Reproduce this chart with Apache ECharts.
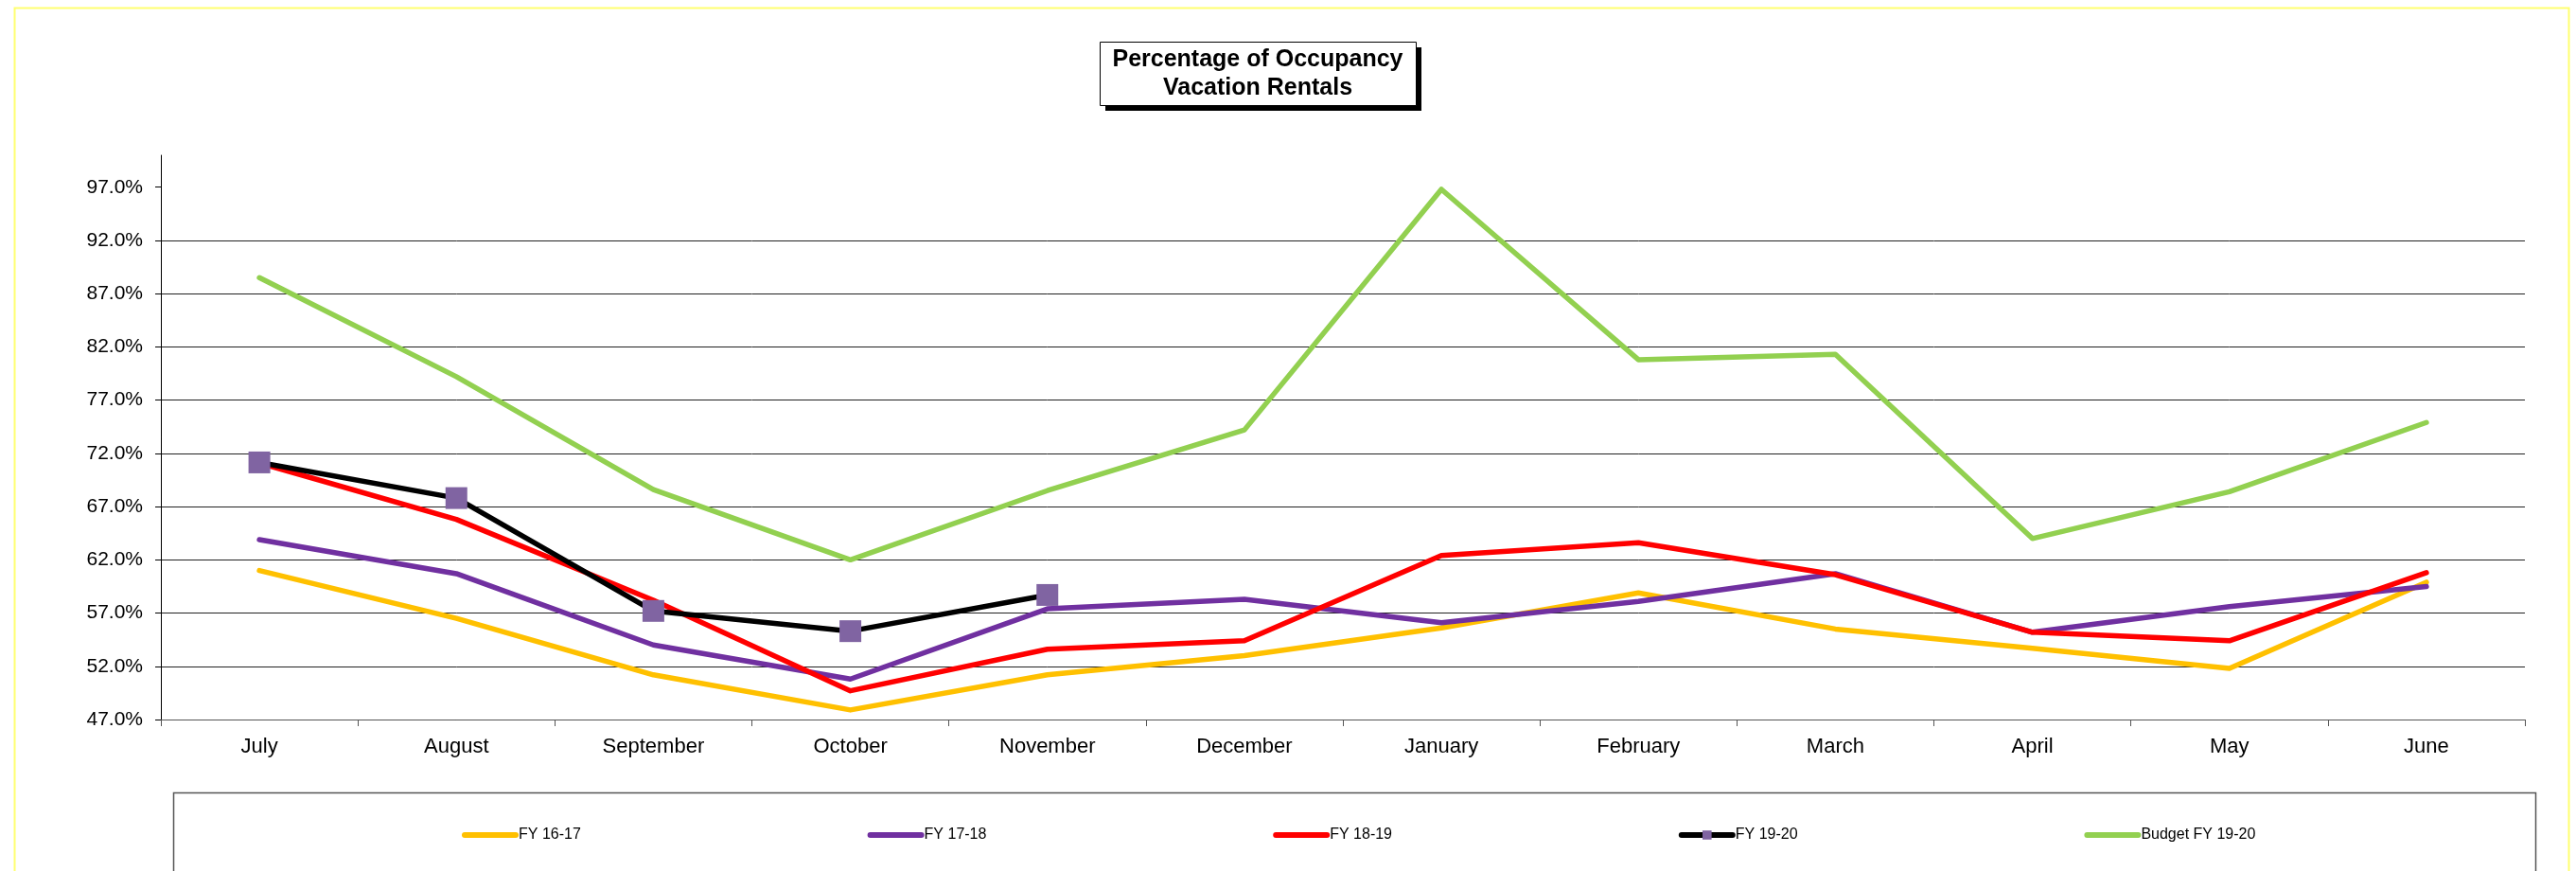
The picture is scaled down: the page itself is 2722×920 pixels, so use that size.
<!DOCTYPE html>
<html>
<head>
<meta charset="utf-8">
<script src="https://cdn.jsdelivr.net/npm/echarts@6/dist/echarts.min.js"></script>
<style>
html,body{margin:0;padding:0;background:#fff;}
#c{width:2722px;height:920px;}
</style>
</head>
<body>
<div id="c"></div>
<script>
const months = ['July','August','September','October','November','December','January','February','March','April','May','June'];
const yTicks = [47, 52, 57, 62, 67, 72, 77, 82, 87, 92, 97];
const seriesNames = ['FY 16-17', 'FY 17-18', 'FY 18-19', 'FY 19-20', 'Budget FY 19-20'];
const fy1617 = [61.0, 56.5, 51.2, 47.9, 51.2, 53.0, 55.6, 58.9, 55.5, 53.7, 51.8, 59.9];
const fy1718 = [63.9, 60.7, 54.0, 50.8, 57.4, 58.3, 56.1, 58.1, 60.7, 55.2, 57.6, 59.5];
const fy1819 = [71.1, 65.8, 58.2, 49.7, 53.6, 54.4, 62.4, 63.6, 60.6, 55.2, 54.4, 60.8];
const fy1920 = [71.15, 67.8, 57.2, 55.3, 58.7, null, null, null, null, null, null, null];
const budget = [88.5, 79.2, 68.6, 62.0, 68.5, 74.2, 96.8, 80.8, 81.3, 64.0, 68.4, 74.9];

const FONT = "'Liberation Sans', Arial, sans-serif";
const chart = echarts.init(document.getElementById('c'), null, {renderer: 'canvas'});

function lineSeries(name, data, color) {
  return {
    name: name, type: 'line', data: data, symbol: 'none', smooth: false,
    lineStyle: {color: color, width: 5.5, cap: 'round', join: 'round'},
    itemStyle: {color: color},
    emphasis: {disabled: true}, animation: false
  };
}

const legendStart = 483, legendSlot = 428.6;
const legends = seriesNames.map((name, i) => ({
  left: legendStart + i * legendSlot, top: 869,
  itemWidth: 54, itemHeight: 12,
  lineStyle: {cap: 'round', width: 6},
  textStyle: {fontFamily: FONT, fontSize: 16, color: '#000', padding: [0, 0, 0, -2]},
  data: [i === 3 ? {name: name} : {name: name, itemStyle: {opacity: 0}}],
  selectedMode: false
}));

const titleBox = {x: 1162, y: 44, w: 334, h: 67, shadow: 6};

const option = {
  animation: false,
  backgroundColor: '#fff',
  title: {
    text: 'Percentage of Occupancy\nVacation Rentals',
    left: titleBox.x + titleBox.w / 2, top: titleBox.y + 4,
    textAlign: 'center',
    padding: 0,
    z: 20,
    textStyle: {fontFamily: FONT, fontSize: 25, fontWeight: 'bold', color: '#000', lineHeight: 30}
  },
  graphic: [
    {type: 'rect', left: 13, top: 6, silent: true, z: -10,
     shape: {width: 2699, height: 1000}, style: {fill: 'none', stroke: '#ffff70', lineWidth: 2}},
    {type: 'rect', left: 181, top: 835, silent: true, z: -10,
     shape: {width: 2496, height: 200}, style: {fill: 'none', stroke: '#555', lineWidth: 1.5}},
    {type: 'rect', x: titleBox.x + titleBox.shadow, y: titleBox.y + titleBox.shadow, silent: true, z: 10,
     shape: {width: titleBox.w, height: titleBox.h}, style: {fill: '#000'}},
    {type: 'rect', x: titleBox.x + 0.5, y: titleBox.y + 0.5, silent: true, z: 11,
     shape: {width: titleBox.w, height: titleBox.h}, style: {fill: '#fff', stroke: '#000', lineWidth: 1}}
  ],
  legend: legends,
  grid: {left: 170, right: 54, top: 164, bottom: 160, containLabel: false},
  xAxis: {
    type: 'category', data: months, boundaryGap: true,
    axisLine: {lineStyle: {color: '#555', width: 1}},
    axisTick: {show: true, length: 7, lineStyle: {color: '#555'}},
    axisLabel: {fontFamily: FONT, fontSize: 22, color: '#000', margin: 18, interval: 0},
    splitLine: {show: false}
  },
  yAxis: {
    type: 'value', min: 47, max: 100,
    axisLine: {show: true, lineStyle: {color: '#000', width: 1}},
    axisTick: {show: true, length: 6, lineStyle: {color: '#000'}, customValues: yTicks},
    axisLabel: {fontFamily: FONT, fontSize: 21, color: '#000', margin: 19, customValues: yTicks,
      formatter: v => (v > 97.5 ? '' : v.toFixed(1) + '%')},
    splitLine: {show: true, showMaxLine: false, lineStyle: {color: '#222', width: 1}}
  },
  series: [
    lineSeries(seriesNames[0], fy1617, '#FFC000'),
    lineSeries(seriesNames[1], fy1718, '#7030A0'),
    lineSeries(seriesNames[2], fy1819, '#FF0000'),
    {
      name: seriesNames[3], type: 'line', data: fy1920,
      symbol: 'rect', symbolSize: 23, showSymbol: true, connectNulls: false,
      lineStyle: {color: '#000', width: 5.5, cap: 'round', join: 'round'},
      itemStyle: {color: '#8064A2'},
      emphasis: {disabled: true}, animation: false
    },
    lineSeries(seriesNames[4], budget, '#92D050')
  ]
};
chart.setOption(option);
</script>
</body>
</html>
